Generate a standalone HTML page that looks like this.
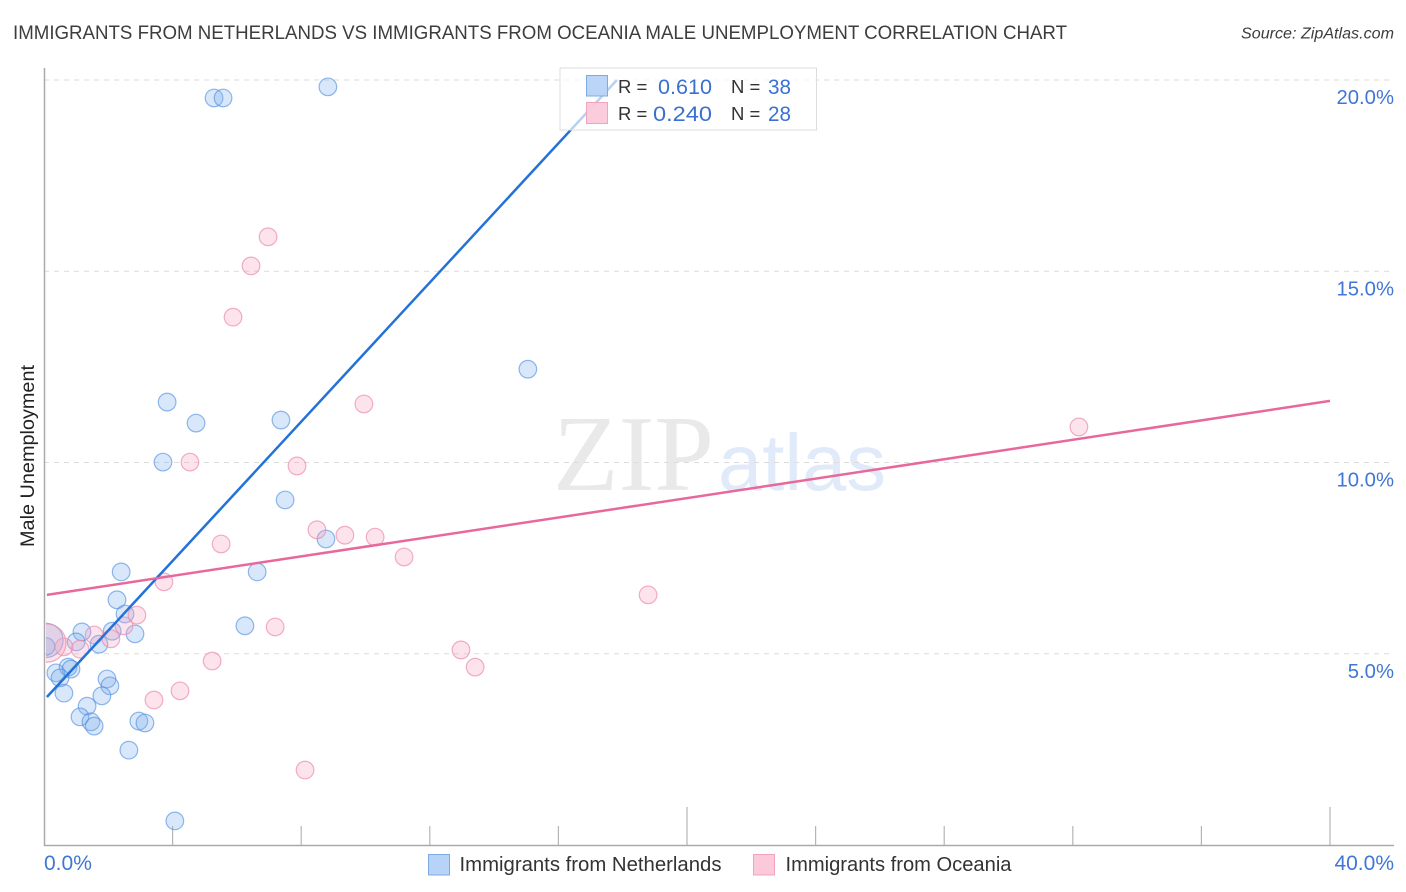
<!DOCTYPE html>
<html lang="en">
<head>
<meta charset="utf-8">
<title>Immigrants from Netherlands vs Immigrants from Oceania Male Unemployment Correlation Chart</title>
<style>
html,body{margin:0;padding:0;background:#fff;width:1406px;height:892px;overflow:hidden}
svg{display:block;font-family:"Liberation Sans",sans-serif}
</style>
</head>
<body>
<svg id="chart" xmlns="http://www.w3.org/2000/svg" width="1406" height="892" viewBox="0 0 1406 892">
<defs><clipPath id="plot-clip"><rect x="46" y="60" width="1348" height="785"/></clipPath></defs>
<rect x="0" y="0" width="1406" height="892" fill="#fff"/>
<text x="13" y="39" font-size="19.5" fill="#3d3d3d" textLength="1054" lengthAdjust="spacingAndGlyphs">IMMIGRANTS FROM NETHERLANDS VS IMMIGRANTS FROM OCEANIA MALE UNEMPLOYMENT CORRELATION CHART</text>
<text x="1241" y="38.500" font-size="15.500" font-style="italic" fill="#3d3d3d" textLength="153" lengthAdjust="spacingAndGlyphs">Source: ZipAtlas.com</text>
<g>
<text x="553" y="490" font-family="'Liberation Serif',serif" font-size="108" fill="#e9e9e9" textLength="161" lengthAdjust="spacingAndGlyphs">ZIP</text>
<text x="718" y="490" font-size="80" fill="#e0eaf9" textLength="168" lengthAdjust="spacingAndGlyphs">atlas</text>
</g>
<g id="grid"></g>
<g id="axes"></g>
<g id="points" clip-path="url(#plot-clip)"></g>
<g id="trends"></g>
<text transform="translate(34,456) rotate(-90)" text-anchor="middle" font-size="19" fill="#222" textLength="182" lengthAdjust="spacingAndGlyphs">Male Unemployment</text>
<g>
<rect x="560" y="68" width="256.500" height="62" fill="#fff" fill-opacity="0.68" stroke="#dcdcdc" stroke-width="1"/>
<rect x="586.500" y="75.500" width="21" height="20.500" fill="#b7d3f8" fill-opacity="0.95" stroke="#7fabe3" stroke-width="1"/>
<rect x="586.500" y="102.500" width="21" height="21" fill="#fbc9da" fill-opacity="0.95" stroke="#f2a3bf" stroke-width="1"/>
<text x="618" y="93" font-size="18.500" fill="#333">R =</text>
<text x="658" y="94" font-size="21" fill="#3b70d2" textLength="54" lengthAdjust="spacingAndGlyphs">0.610</text>
<text x="731" y="93" font-size="18.500" fill="#333">N =</text>
<text x="768" y="94" font-size="21" fill="#3b70d2" textLength="23" lengthAdjust="spacingAndGlyphs">38</text>
<text x="618" y="120" font-size="18.500" fill="#333">R =</text>
<text x="653" y="121" font-size="21" fill="#3b70d2" textLength="59" lengthAdjust="spacingAndGlyphs">0.240</text>
<text x="731" y="120" font-size="18.500" fill="#333">N =</text>
<text x="768" y="121" font-size="21" fill="#3b70d2" textLength="23" lengthAdjust="spacingAndGlyphs">28</text>
</g>
<g>
<rect x="428.500" y="854.500" width="21" height="20.500" fill="#b7d3f8" stroke="#7fabe3" stroke-width="1"/>
<text x="459.500" y="871" font-size="20" fill="#333" textLength="262" lengthAdjust="spacingAndGlyphs">Immigrants from Netherlands</text>
<rect x="753.500" y="854.500" width="21" height="20.500" fill="#fbc9da" stroke="#f2a3bf" stroke-width="1"/>
<text x="785.500" y="871" font-size="20" fill="#333" textLength="226" lengthAdjust="spacingAndGlyphs">Immigrants from Oceania</text>
</g>
</svg>
<script>
const netherlandsX = [5.29,5.57,8.83,15.05,3.83,4.73,7.37,3.70,7.50,8.77,2.40,6.63,2.27,2.52,6.25,2.83,2.12,1.18,1.71,1.00,0.75,0.84,0.37,0.50,0.62,1.96,2.05,1.80,1.34,1.12,1.46,1.56,2.95,3.14,2.64,4.07,0.06,0.06];
const netherlandsY = [19.53,19.53,19.82,12.44,11.58,11.03,11.11,10.01,9.02,8.00,7.14,7.14,6.41,6.04,5.73,5.52,5.59,5.57,5.25,5.31,4.65,4.60,4.50,4.37,3.97,4.34,4.16,3.90,3.63,3.35,3.22,3.11,3.24,3.19,2.48,0.63,5.35,5.19];
const netherlandsWeight = [1,1,1,1,1,1,1,1,1,1,1,1,1,1,1,1,1,1,1,1,1,1,1,1,1,1,1,1,1,1,1,1,1,1,1,1,3.8,1];
const oceaniaX = [6.97,6.44,5.88,9.95,32.19,4.54,7.87,8.49,9.36,10.30,11.20,18.79,12.97,13.41,5.51,3.73,2.89,2.49,7.19,5.23,4.23,3.42,2.08,1.56,1.12,0.62,8.12,0.09];
const oceaniaY = [15.90,15.14,13.80,11.53,10.93,10.01,9.91,8.24,8.10,8.05,7.53,6.54,5.10,4.65,7.87,6.88,6.01,5.73,5.70,4.81,4.03,3.79,5.39,5.49,5.12,5.18,1.96,5.28];
const oceaniaWeight = [1,1,1,1,1,1,1,1,1,1,1,1,1,1,1,1,1,1,1,1,1,1,1,1,1,1,1,4.7];
const netherlandsTrendX = [0.09,17.82];
const netherlandsTrendY = [3.87,20.00];
const oceaniaTrendX = [0.09,40.00];
const oceaniaTrendY = [6.54,11.61];
const yTickValues = [5,10,15,20];
const yTickLabels = ["5.0%","10.0%","15.0%","20.0%"];
const xTickValues = [4,8,12,16,20,24,28,32,36,40];
const xMajorTicks = [20,40];
const xEndValues = [0,40];
const xEndLabels = ["0.0%","40.0%"];

const NS = "http://www.w3.org/2000/svg";
const xScale = v => 44 + 32.15 * v;
const yScale = v => 845 - 38.25 * v;
function mk(parent, tag, attrs, text) {
  const el = document.createElementNS(NS, tag);
  for (const k in attrs) el.setAttribute(k, attrs[k]);
  if (text !== undefined) el.textContent = text;
  parent.appendChild(el);
  return el;
}
const grid = document.getElementById("grid");
const axes = document.getElementById("axes");
const pts = document.getElementById("points");
const trends = document.getElementById("trends");

yTickValues.forEach((v, i) => {
  const line = mk(grid, "line", {x1: 44, x2: 1394, y1: yScale(v), y2: yScale(v), stroke: "#dcdcdc", "stroke-width": 1, "stroke-dasharray": "5 5"});
  
  
  const label = mk(axes, "text", {x: 1394, y: yScale(v) + 24, "text-anchor": "end", "font-size": 20.300, fill: "#4176d6"}, yTickLabels[i]);
  
  
});

const yAxis = mk(axes, "line", {x1: 44.500, x2: 44.500, y1: 68, y2: 846, stroke: "#aaaaaa", "stroke-width": 1.500});


const xAxis = mk(axes, "line", {x1: 44, x2: 1394, y1: 845.500, y2: 845.500, stroke: "#aaaaaa", "stroke-width": 1.500});



xTickValues.forEach(v => {
  const top = xMajorTicks.includes(v) ? 807 : 826;
  const tick = mk(axes, "line", {x1: xScale(v), x2: xScale(v), y1: top, y2: 845, stroke: "#b5b5b5", "stroke-width": 1.200});
  
  
});
xEndValues.forEach((v, i) => {
  const label = mk(axes, "text", {x: i === 0 ? 44 : 1394, y: 870, "text-anchor": i === 0 ? "start" : "end", "font-size": 21, fill: "#4176d6"}, xEndLabels[i]);
  
  
});

function drawSeries(xs, ys, ws, fill, stroke, strokeOpacity) {
  xs.forEach((x, i) => {
    const c = mk(pts, "circle", {cx: xScale(x), cy: yScale(ys[i]), r: 8.800 * Math.sqrt(ws[i]), fill: fill, "fill-opacity": 0.3, stroke: stroke, "stroke-opacity": strokeOpacity, "stroke-width": 1.200});
    
    
  });
}
drawSeries(netherlandsX, netherlandsY, netherlandsWeight, "#7fb0ec", "#4a8ade", 0.6);
drawSeries(oceaniaX, oceaniaY, oceaniaWeight, "#f5a3bf", "#ec8bac", 0.7);

const blueLine = mk(trends, "line", {x1: xScale(netherlandsTrendX[0]), y1: yScale(netherlandsTrendY[0]), x2: xScale(netherlandsTrendX[1]), y2: yScale(netherlandsTrendY[1]), stroke: "#2472d8", "stroke-width": 2.500});


const pinkLine = mk(trends, "line", {x1: xScale(oceaniaTrendX[0]), y1: yScale(oceaniaTrendY[0]), x2: xScale(oceaniaTrendX[1]), y2: yScale(oceaniaTrendY[1]), stroke: "#e8689b", "stroke-width": 2.500});


</script>
</body>
</html>
